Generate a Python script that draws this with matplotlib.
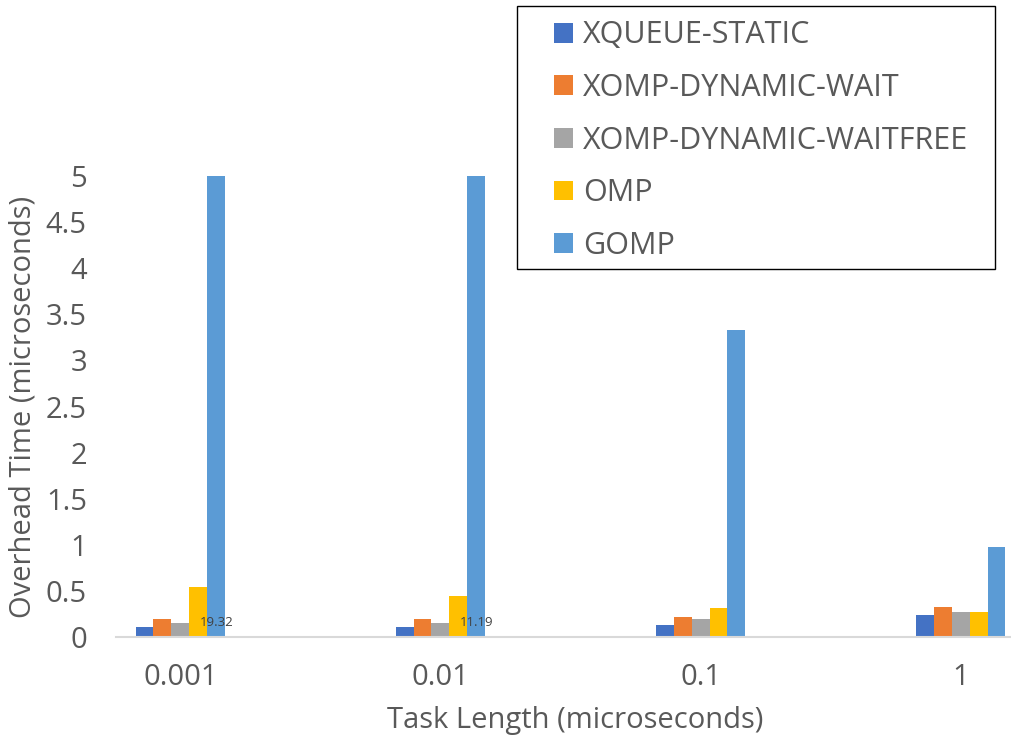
import matplotlib
matplotlib.use("Agg")
import matplotlib.pyplot as plt
from matplotlib.patches import Rectangle
import numpy as np

plt.rcParams['font.family'] = ['Open Sans', 'DejaVu Sans']

categories = ["0.001", "0.01", "0.1", "1"]
series_names = ["XQUEUE-STATIC", "XOMP-DYNAMIC-WAIT", "XOMP-DYNAMIC-WAITFREE", "OMP", "GOMP"]
xqueue_static = [0.11, 0.11, 0.13, 0.24]
xomp_dynamic_wait = [0.19, 0.20, 0.22, 0.32]
xomp_dynamic_waitfree = [0.15, 0.15, 0.19, 0.27]
omp = [0.545, 0.44, 0.31, 0.27]
gomp = [19.32, 11.19, 3.33, 0.98]
series_values = [xqueue_static, xomp_dynamic_wait, xomp_dynamic_waitfree, omp, gomp]
colors = ["#4472C4", "#ED7D31", "#A5A5A5", "#FFC000", "#5B9BD5"]

y_max = 5
text_color = "#595959"
W, H = 1012, 740

fig = plt.figure(figsize=(W / 100, H / 100), dpi=100)
ax = fig.add_axes([116 / W, 103 / H, 896 / W, 461 / H])

x = np.arange(len(categories))
bar_w = 0.0692
offsets = (np.arange(len(series_names)) - 2) * bar_w
for name, vals, col, off in zip(series_names, series_values, colors, offsets):
    ax.bar(x + off, vals, width=bar_w, color=col, label=name, linewidth=0)

# values that run past the axis top get their number printed at the bar base
for xi, v in zip(x, gomp):
    if v > y_max:
        ax.text(xi + offsets[-1], 0.16, f"{v:.2f}", ha="center", va="center",
                fontsize=9.5, color="#404040")

ax.set_ylim(0, y_max)
ax.set_xlim(-0.248, 3.198)
yt = np.arange(0, y_max + 0.01, 0.5)
ax.set_yticks(yt)
ax.set_yticklabels([f"{t:g}" for t in yt])
ax.set_xticks(x)
ax.set_xticklabels(categories)
ax.tick_params(axis="both", length=0, labelsize=21, colors=text_color)
ax.tick_params(axis="y", pad=21)
ax.tick_params(axis="x", pad=19)
for s in ["top", "right", "left"]:
    ax.spines[s].set_visible(False)
ax.spines["bottom"].set_color("#D9D9D9")
ax.spines["bottom"].set_linewidth(1.5)

ax.set_xlabel("Task Length (microseconds)", fontsize=21, color=text_color, labelpad=10)
ax.xaxis.label.set_x((575 - 116) / 896)
ax.set_ylabel("Overhead Time (microseconds)", fontsize=21, color=text_color, labelpad=6)

# legend box with a fixed outline, entries placed inside it
frame = Rectangle((517 / W, 1 - 269 / H), 478 / W, 263 / H, transform=fig.transFigure,
                  facecolor="white", edgecolor="black", linewidth=1.0, zorder=2)
fig.add_artist(frame)
handles, labels = ax.get_legend_handles_labels()
leg = fig.legend(handles, labels, loc="upper left", bbox_to_anchor=(554 / W, 1 - 20.5 / H),
                 bbox_transform=fig.transFigure, fontsize=22, frameon=False,
                 handlelength=0.62, handleheight=0.62, handletextpad=0.33,
                 labelspacing=0.74, borderpad=0, borderaxespad=0)
leg.set_zorder(5)
for t in leg.get_texts():
    t.set_color(text_color)

fig.savefig("out.png", dpi=100)
